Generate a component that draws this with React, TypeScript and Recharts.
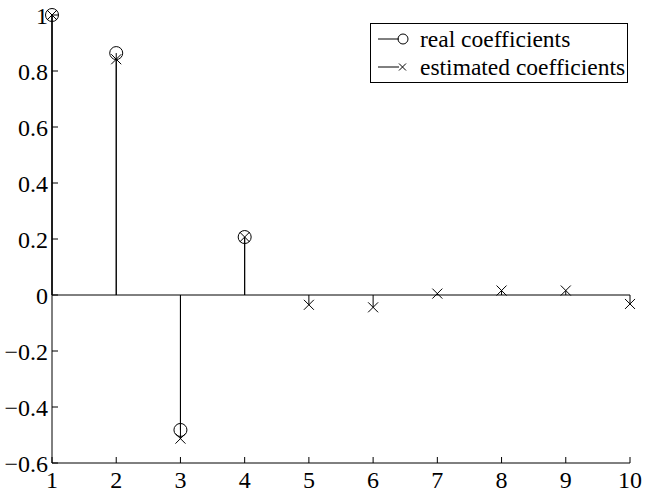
import React from 'react';
import { ComposedChart, Scatter, XAxis, YAxis, ReferenceLine } from "recharts";

const indices = [1, 2, 3, 4, 5, 6, 7, 8, 9, 10];
const realCoefficients = [1, 0.864, -0.482, 0.207];
const estimatedCoefficients = [1, 0.842, -0.513, 0.207, -0.035, -0.044, 0.005, 0.016, 0.016, -0.032];
const xTicks = [1, 2, 3, 4, 5, 6, 7, 8, 9, 10];
const yTicks = [-0.6, -0.4, -0.2, 0, 0.2, 0.4, 0.6, 0.8, 1];
const legendLabels = ["real coefficients", "estimated coefficients"];

const realData = realCoefficients.map((v, i) => ({ x: indices[i], y: v }));
const estData = estimatedCoefficients.map((v, i) => ({ x: indices[i], y: v }));

const font = "Liberation Serif";

const Circle = (props: any) => (
	<circle cx={props.cx} cy={props.cy} r={6.5} fill="none" stroke="#000" strokeWidth={1} />
);

const Cross = (props: any) => {
	const { cx, cy } = props;
	const s = 5;
	return (
		<path d={`M${cx - s},${cy - s}L${cx + s},${cy + s}M${cx - s},${cy + s}L${cx + s},${cy - s}`} stroke="#000" strokeWidth={1} />
	);
};

const LegendBox = () => (
	<div style={{ position: "absolute", left: 370, top: 23, border: "1.5px solid #000", background: "#fff", width: 258, height: 60, fontFamily: font, fontSize: 23.5, color: "#000", boxSizing: "border-box", paddingTop: 1 }}>
		{legendLabels.map((label, i) => (
			<div key={label} style={{ display: "flex", alignItems: "center", height: 28 }}>
				<svg width={49} height={28} style={{ flex: "none" }}>
					<line x1={7} y1={14} x2={28} y2={14} stroke="#000" />
					{i === 0 ? <circle cx={32} cy={14} r={5} fill="none" stroke="#000" /> : <path d="M28,10.5L35,17.5M28,17.5L35,10.5" stroke="#000" />}
				</svg>
				<span style={{ lineHeight: "28px", whiteSpace: "nowrap" }}>{label}</span>
			</div>
		))}
	</div>
);

const App = () => (
	<div style={{ position: "absolute", left: 0, top: 0, width: 650, height: 494, fontFamily: font }}>
		<ComposedChart width={650} height={494} margin={{ top: 15, right: 20, bottom: 0, left: 0 }}>
			<XAxis type="number" dataKey="x" domain={[1, 10]} ticks={xTicks}
				axisLine={{ stroke: "#000" }} tickLine={{ stroke: "#000" }} tickSize={-6} tickMargin={14}
				tick={{ fill: "#000", fontFamily: font, fontSize: 24 }} height={31} />
			<YAxis type="number" domain={[-0.6, 1]} ticks={yTicks} width={52}
				tickFormatter={(v: number) => (v < 0 ? "\u2212" + Math.abs(v) : String(v))}
				axisLine={{ stroke: "#000" }} tickLine={{ stroke: "#000" }} tickSize={-6} tickMargin={10}
				tick={{ fill: "#000", fontFamily: font, fontSize: 24 }} />
			<ReferenceLine y={0} stroke="#000" />
			{estData.map((d) => (
				<ReferenceLine key={"e" + d.x} segment={[{ x: d.x, y: 0 }, { x: d.x, y: d.y }]} stroke="#000" />
			))}
			{realData.map((d) => (
				<ReferenceLine key={"r" + d.x} segment={[{ x: d.x, y: 0 }, { x: d.x, y: d.y }]} stroke="#000" />
			))}
			<Scatter data={realData} dataKey="y" shape={<Circle />} isAnimationActive={false} />
			<Scatter data={estData} dataKey="y" shape={<Cross />} isAnimationActive={false} />
		</ComposedChart>
		<LegendBox />
	</div>
);

export default App;
